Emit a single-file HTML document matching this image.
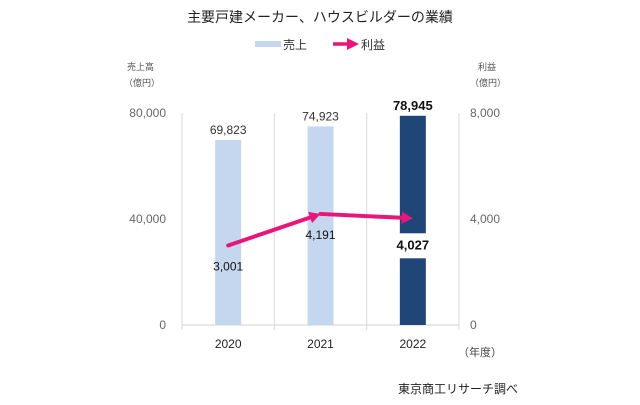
<!DOCTYPE html>
<html><head><meta charset="utf-8"><style>
body{margin:0;background:#fff;}
svg{display:block;font-family:"Liberation Sans","Noto Sans CJK JP",sans-serif;}
</style></head><body>
<svg id="c" width="640" height="405" viewBox="0 0 640 405">
<text x="320" y="22" text-anchor="middle" font-size="14" fill="#222">主要戸建メーカー、ハウスビルダーの業績</text>
<g>
<rect x="255" y="41" width="26" height="6" fill="#c5d7ee"/>
<text x="283" y="49" font-size="12" fill="#333">売上</text>
<line x1="333" y1="44" x2="350" y2="44" stroke="#e8157a" stroke-width="3.5"/>
<polygon points="347,38 359,44 347,50" fill="#e8157a"/>
<text x="361" y="49" font-size="12" fill="#333">利益</text>
</g>
<text x="127" y="70" font-size="9" fill="#555">売上高</text>
<text x="124" y="86" font-size="9" fill="#555">（億円）</text>
<text x="478" y="70" font-size="9" fill="#555">利益</text>
<text x="470" y="86" font-size="9" fill="#555">（億円）</text>
<text x="458" y="356" font-size="11" fill="#444">（年度）</text>
<text x="518" y="393" text-anchor="end" font-size="12" fill="#222">東京商工リサーチ調べ</text>
<g id="plot"></g>
</svg>
<script>
const categories=["2020","2021","2022"];
const salesValues=[69823,74923,78945];
const profitValues=[3001,4191,4027];
const leftTicks=[0,40000,80000];
const rightTicks=[0,4000,8000];
const salesLabels=["69,823","74,923","78,945"];
const profitLabels=["3,001","4,191","4,027"];

const NS="http://www.w3.org/2000/svg";
const g=document.getElementById('plot');
const X0=182,X1=459,Y0=325,Y1=113;
const bw=(X1-X0)/categories.length;
const xc=i=>X0+bw*(i+0.5);
const yL=v=>Y0-v/80000*(Y0-Y1);
const yR=v=>Y0-v/8000*(Y0-Y1);
function mk(t,a){const e=document.createElementNS(NS,t);for(const k in a)e.setAttribute(k,a[k]);g.appendChild(e);return e;}
for(let i=0;i<=categories.length;i++){
 const l=mk('line',{x1:X0+bw*i,x2:X0+bw*i,y1:Y1,y2:Y0+5,stroke:'#d9d9d9'});
 
 
}
const ax=mk('line',{x1:X0,x2:X1,y1:Y0,y2:Y0,stroke:'#d0d0d0'});


leftTicks.forEach(v=>{
 const t=mk('text',{x:166,y:yL(v)+4,'text-anchor':'end','font-size':12,fill:'#666'});t.textContent=v.toLocaleString('en-US');
 
 
});
rightTicks.forEach(v=>{
 const t=mk('text',{x:470,y:yR(v)+4,'font-size':12,fill:'#666'});t.textContent=v.toLocaleString('en-US');
 
 
});
categories.forEach((c,i)=>{
 const last=i===categories.length-1;
 const b=mk('rect',{x:xc(i)-13,y:yL(salesValues[i]),width:26,height:Y0-yL(salesValues[i]),fill:last?'#1f4677':'#c5d7ee'});
 
 
 const t=mk('text',{x:xc(i),y:yL(salesValues[i])-6,'text-anchor':'middle','font-size':last?13:12,'font-weight':last?'bold':'normal',fill:last?'#111':'#333'});t.textContent=salesLabels[i];
 
 
 const xl=mk('text',{x:xc(i),y:348,'text-anchor':'middle','font-size':12,fill:'#222'});xl.textContent=c;
 
 
});
for(let i=0;i<profitValues.length-1;i++){
 const x1=xc(i),y1=yR(profitValues[i]),x2=xc(i+1),y2=yR(profitValues[i+1]);
 const a=Math.atan2(y2-y1,x2-x1),L=11;
 const ln=mk('line',{x1:x1,y1:y1,x2:x2-Math.cos(a)*L,y2:y2-Math.sin(a)*L,stroke:'#e8157a','stroke-width':4,'stroke-linecap':'round'});
 
 
 const px=x2-Math.cos(a)*L,py=y2-Math.sin(a)*L,w=6;
 const ar=mk('polygon',{points:`${x2},${y2} ${px-Math.sin(a)*w},${py+Math.cos(a)*w} ${px+Math.sin(a)*w},${py-Math.cos(a)*w}`,fill:'#e8157a'});
 
 
}
const offs=[25,25,31];
profitValues.forEach((v,i)=>{
 const last=i===profitValues.length-1;
 const y=yR(v)+offs[i];
 if(last){const bg=mk('rect',{x:xc(i)-22,y:y-16,width:44,height:25,fill:'#fff'});
  
  }
 const t=mk('text',{x:xc(i),y:y,'text-anchor':'middle','font-size':last?13:12,'font-weight':last?'bold':'normal',fill:'#111'});t.textContent=profitLabels[i];
 
 
});
</script>
</body></html>
